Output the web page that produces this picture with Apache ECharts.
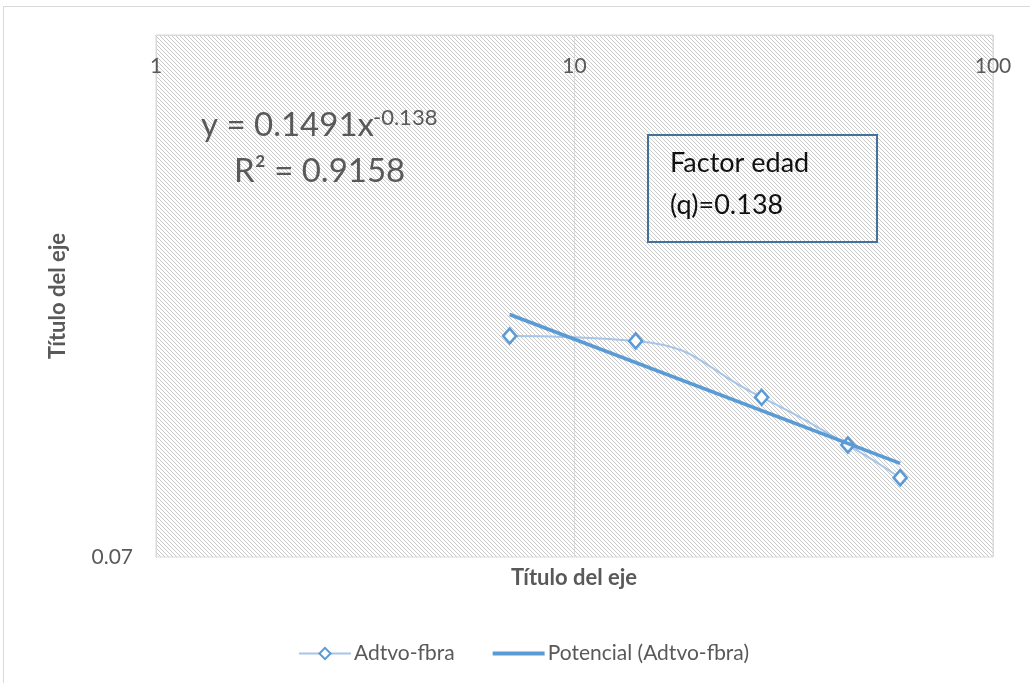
<!DOCTYPE html>
<html>
<head>
<meta charset="utf-8">
<script src="https://cdn.jsdelivr.net/npm/echarts@6/dist/echarts.min.js"></script>
<style>
  html, body { margin: 0; padding: 0; background: #fff; }
  #chart { width: 1030px; height: 683px; }
</style>
</head>
<body>
<div id="chart"></div>
<script>
// ==============================================================
// Adtvo-fbra, power trendline on log-log axes
// ==============================================================
var xValues = [7, 14, 28, 45, 60];
var yValues = [0.1092, 0.1081, 0.0965, 0.0877, 0.0821];
var trendX = [7, 60];
var trendY = [0.114, 0.0845];
var xTicks = [1, 10, 100];
var yTickLabels = ['0.07'];

var seriesData = xValues.map(function (x, i) { return [x, yValues[i]]; });
var trendData = trendX.map(function (x, i) { return [x, trendY[i]]; });

// diagonal hatch for the plot area
var hatch = document.createElement('canvas');
hatch.width = 4;
hatch.height = 4;
var hctx = hatch.getContext('2d');
hctx.fillStyle = '#ffffff';
hctx.fillRect(0, 0, 4, 4);
hctx.fillStyle = '#c9c9c9';
for (var k = 0; k < 4; k++) {
    hctx.fillRect(k, k, 1, 1);
}

var dom = document.getElementById('chart');
var myChart = echarts.init(dom);
var font = 'Lato, "Noto Sans", sans-serif';
var option = {
    animation: false,
    textStyle: { fontFamily: font },
    grid: {
        left: 156, right: 37, top: 35, bottom: 126,
        show: true,
        backgroundColor: { image: hatch, repeat: 'repeat' },
        borderColor: '#d9d9d9',
        borderWidth: 1
    },
    legend: {
        top: 638,
        left: 293,
        itemWidth: 52,
        itemHeight: 14,
        itemGap: 36,
        textStyle: { fontFamily: font, fontSize: 21, color: '#595959', padding: [0, 0, 0, -2] },
        data: [
            { name: 'Adtvo-fbra', lineStyle: { width: 2 } },
            { name: 'Potencial (Adtvo-fbra)', itemStyle: { opacity: 0 }, lineStyle: { width: 4 } }
        ]
    },
    xAxis: {
        type: 'log',
        logBase: 10,
        min: xTicks[0],
        max: xTicks[xTicks.length - 1],
        position: 'top',
        axisLine: { show: true, lineStyle: { color: '#d9d9d9' } },
        axisTick: { show: false },
        axisLabel: {
            inside: true,
            margin: 21,
            showMinLabel: true,
            showMaxLabel: true,
            color: '#595959',
            fontSize: 21,
            fontFamily: font
        },
        splitLine: { show: true, lineStyle: { color: '#d9d9d9', width: 1 } }
    },
    yAxis: {
        type: 'log',
        logBase: 10,
        min: 0.07,
        max: 0.2,
        name: 'Título del eje',
        nameLocation: 'middle',
        nameGap: 87,
        nameTextStyle: { fontFamily: font, fontSize: 22, fontWeight: 'bold', color: '#595959' },
        axisLine: { show: false },
        axisTick: { show: false },
        splitLine: { show: false },
        axisLabel: {
            margin: 23,
            showMinLabel: true,
            color: '#595959',
            fontSize: 21,
            fontFamily: font,
            formatter: function (v) {
                for (var i = 0; i < yTickLabels.length; i++) {
                    if (Math.abs(v - parseFloat(yTickLabels[i])) < 1e-6) return yTickLabels[i];
                }
                return '';
            }
        }
    },
    series: [
        {
            name: 'Adtvo-fbra',
            type: 'line',
            smooth: 0.5,
            data: seriesData,
            symbol: 'diamond',
            symbolSize: [13, 15],
            itemStyle: { color: '#ffffff', borderColor: '#5b9bd5', borderWidth: 2.6 },
            lineStyle: { color: '#a5c6e8', width: 2 },
            z: 2
        },
        {
            name: 'Potencial (Adtvo-fbra)',
            type: 'line',
            data: trendData,
            symbol: 'none',
            itemStyle: { color: '#5b9bd5' },
            lineStyle: { color: '#5b9bd5', width: 3.5 },
            z: 3
        }
    ],
    graphic: [
        { type: 'line', shape: { x1: 3, y1: 6.5, x2: 1030, y2: 6.5 }, style: { stroke: '#d9d9d9', lineWidth: 1 } },
        { type: 'line', shape: { x1: 3.5, y1: 6, x2: 3.5, y2: 683 }, style: { stroke: '#d9d9d9', lineWidth: 1 } },
        {
            type: 'text', left: 201, top: 109,
            style: { text: 'y = 0.1491x', font: '33px ' + font, fill: '#595959' }
        },
        {
            type: 'text', left: 373, top: 107,
            style: { text: '-0.138', font: '22px ' + font, fill: '#595959' }
        },
        {
            type: 'text', left: 234, top: 155,
            style: { text: 'R² = 0.9158', font: '33px ' + font, fill: '#595959' }
        },
        {
            type: 'rect', shape: { x: 648, y: 135, width: 229, height: 107 },
            style: { fill: 'rgba(255,255,255,0)', stroke: '#41719c', lineWidth: 2 }
        },
        {
            type: 'text', left: 670, top: 150,
            style: { text: 'Factor edad', font: '27px ' + font, fill: '#111',
                     shadowColor: 'rgba(0,0,0,0.35)', shadowBlur: 2, shadowOffsetX: 1, shadowOffsetY: 1 }
        },
        {
            type: 'text', left: 670, top: 192,
            style: { text: '(q)=0.138', font: '27px ' + font, fill: '#111',
                     shadowColor: 'rgba(0,0,0,0.35)', shadowBlur: 2, shadowOffsetX: 1, shadowOffsetY: 1 }
        },
        {
            type: 'text', x: 574, y: 578,
            style: { text: 'Título del eje', font: 'bold 22px ' + font, fill: '#595959',
                     align: 'center', verticalAlign: 'middle' }
        }
    ]
};

myChart.setOption(option);
</script>
</body>
</html>
